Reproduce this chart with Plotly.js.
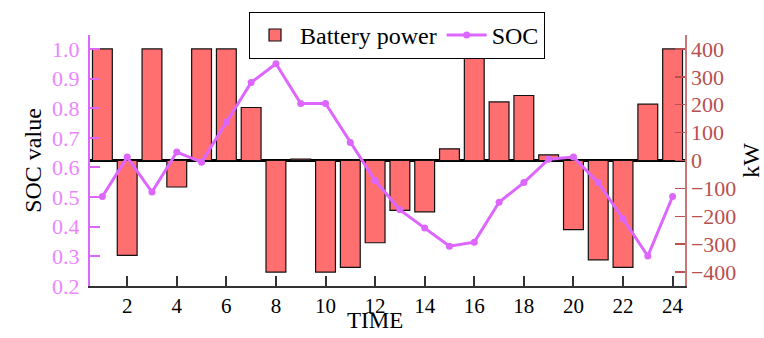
<!DOCTYPE html>
<html>
<head>
<meta charset="utf-8">
<script src="https://cdn.plot.ly/plotly-3.0.1.min.js"></script>
<style>html,body{margin:0;padding:0;background:#fff;}#chart{width:764px;height:338px;}</style>
</head>
<body>
<div id="chart"></div>
<script>
// Hourly battery dispatch (kW) and state of charge over one day
const hours = [1,2,3,4,5,6,7,8,9,10,11,12,13,14,15,16,17,18,19,20,21,22,23,24];
const batteryPower = [400,-340,400,-95,400,400,190,-400,5,-400,-383,-295,-179,-184,42,400,210,233,20,-248,-356,-383,202,400];
const soc = [0.502,0.635,0.517,0.652,0.618,0.753,0.887,0.950,0.816,0.816,0.684,0.556,0.457,0.396,0.334,0.348,0.483,0.549,0.628,0.635,0.549,0.427,0.301,0.502];
const xTicks = [2,4,6,8,10,12,14,16,18,20,22,24];

const serif = '"Liberation Serif", "Times New Roman", Times, serif';
const violet = '#DD66FF';
const violetText = '#EC85FF';
const brick = '#B85050';

const traces = [
  {
    type: 'bar', name: 'Battery power', x: hours, y: batteryPower, yaxis: 'y',
    width: 0.8,
    marker: {color: '#FF6F6F', line: {color: '#111', width: 1.2}}
  },
  {
    type: 'scatter', mode: 'lines+markers', name: 'SOC', x: hours, y: soc, yaxis: 'y2',
    line: {color: violet, width: 3},
    marker: {color: violet, size: 7}
  }
];

const layout = {
  width: 764, height: 338,
  margin: {l: 90, r: 79, t: 35, b: 52},
  paper_bgcolor: '#fff', plot_bgcolor: '#fff',
  font: {family: serif, size: 22, color: '#000'},
  showlegend: true,
  legend: {
    orientation: 'h', x: 0.516, xanchor: 'center', y: 1.092, yanchor: 'top',
    bordercolor: '#000', borderwidth: 1, bgcolor: '#fff',
    font: {family: serif, size: 24, color: '#000'},
    itemwidth: 40, tracegroupgap: 0
  },
  bargap: 0,
  xaxis: {
    range: [0.5, 24.5], tickvals: xTicks, ticks: 'inside', ticklen: 10, tickwidth: 2,
    tickcolor: '#333', showline: true, linecolor: '#333', linewidth: 2,
    showgrid: false, zeroline: false,
    tickfont: {family: serif, size: 21, color: '#000'}
  },
  yaxis: {
    side: 'right', range: [-450, 450], dtick: 100, tick0: 0,
    ticks: 'inside', ticklen: 10, tickwidth: 1.5, tickcolor: brick,
    showline: true, linecolor: '#C87878', linewidth: 1.5,
    showgrid: false, zeroline: true, zerolinecolor: '#000', zerolinewidth: 2.5,
    tickfont: {family: serif, size: 22, color: brick},
    title: {text: 'kW', font: {family: serif, size: 24, color: '#000'}}
  },
  yaxis2: {
    overlaying: 'y', side: 'left', range: [0.2, 1.047], dtick: 0.1, tick0: 0.2,
    tickformat: '.1f', ticks: 'inside', ticklen: 10, tickwidth: 2, tickcolor: violet,
    showline: true, linecolor: violet, linewidth: 2,
    showgrid: false, zeroline: false, ticklabelstandoff: 4, automargin: true,
    tickfont: {family: serif, size: 22, color: violetText},
    title: {text: 'SOC value', font: {family: serif, size: 24, color: '#000'}, standoff: 4}
  },
  // x-axis caption, set just below the tick labels
  annotations: [{
    text: 'TIME', xref: 'paper', yref: 'paper', x: 0.479, y: 0,
    xanchor: 'center', yanchor: 'top', yshift: -20, showarrow: false,
    font: {family: serif, size: 23, color: '#000'}
  }]
};

Plotly.newPlot('chart', traces, layout, {displayModeBar: false, staticPlot: true});
</script>
</body>
</html>
